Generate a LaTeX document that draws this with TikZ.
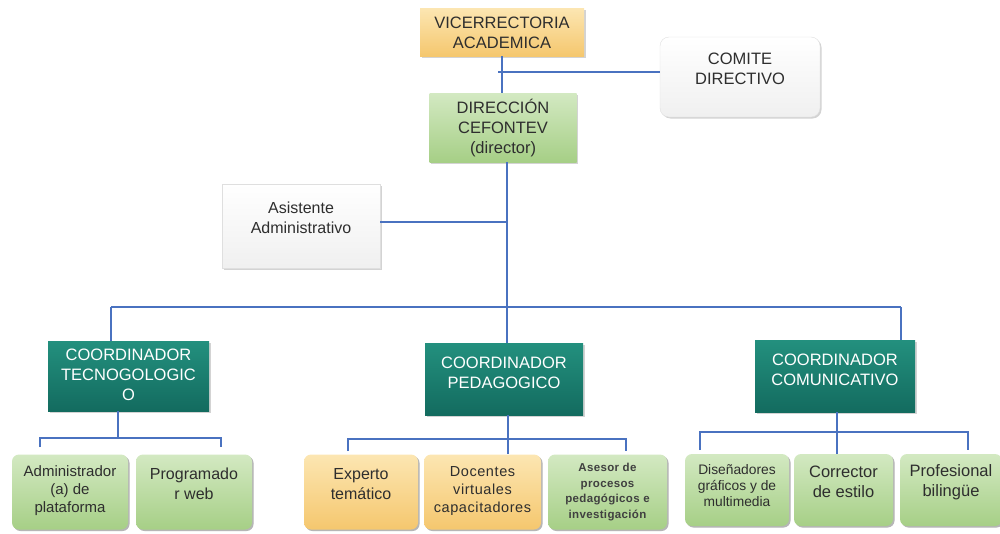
\documentclass[tikz,border=0pt]{standalone}
\usepackage{fontspec}
\setmainfont{Liberation Sans}
\usetikzlibrary{shadows,calc}
\definecolor{lineblue}{HTML}{4A72C0}
\definecolor{orA}{HTML}{FCE6B2}
\definecolor{orB}{HTML}{F5C76E}
\definecolor{grA}{HTML}{D3E9C2}
\definecolor{grB}{HTML}{A6CF86}
\definecolor{tlA}{HTML}{23907E}
\definecolor{tlB}{HTML}{136B5F}
\definecolor{txtgray}{HTML}{2E2E2E}
\tikzset{
  box/.style={draw=none, inner sep=1pt,
    drop shadow={shadow xshift=1.5pt, shadow yshift=-1.5pt, opacity=0.35}},
  orangebox/.style={box, top color=orA, bottom color=orB},
  greenbox/.style={box, top color=grA, bottom color=grB},
  tealbox/.style={box, top color=tlA, bottom color=tlB},
  whitebox/.style={box, top color=white, bottom color=gray!12, draw=gray!25},
  leafbox/.style={box, rounded corners=7pt},
  lbl/.style={inner sep=0pt, align=center, text=txtgray},
  wlbl/.style={lbl, text=white},
  conn/.style={draw=lineblue, line width=1.1pt},
}
\newcommand\fs[2]{\fontsize{#1}{#2}\selectfont}
\begin{document}
\begin{tikzpicture}[x=1pt,y=-1pt]
\useasboundingbox (0,0) rectangle (1000,533);
% top level boxes
\node[orangebox, minimum width=164, minimum height=48] (vice) at (502,32) {};
\node[whitebox, rounded corners=9pt, minimum width=160, minimum height=80] (comite) at (740,77) {};
\node[greenbox, minimum width=147, minimum height=69] (dir) at (503,127.5) {};
\node[whitebox, minimum width=158, minimum height=84] (asis) at (301,226) {};
% coordinators
\node[tealbox, minimum width=161, minimum height=70] (ctec) at (128.5,376) {};
\node[tealbox, minimum width=158, minimum height=72] (cped) at (504,379) {};
\node[tealbox, minimum width=160, minimum height=72] (ccom) at (835,376) {};
% leaves
\node[greenbox, leafbox, minimum width=116, minimum height=75] (adm) at (70,492) {};
\node[greenbox, leafbox, minimum width=116, minimum height=75] (prog) at (194,492) {};
\node[orangebox, leafbox, minimum width=114, minimum height=75] (exp) at (361,492) {};
\node[orangebox, leafbox, minimum width=117, minimum height=75] (doc) at (482.5,492) {};
\node[greenbox, leafbox, minimum width=119, minimum height=75] (ases) at (607.5,492) {};
\node[greenbox, leafbox, minimum width=104, minimum height=72] (dis) at (737,490) {};
\node[greenbox, leafbox, minimum width=99, minimum height=72] (corr) at (843.5,490) {};
\node[greenbox, leafbox, minimum width=102, minimum height=72] (prof) at (951,490) {};
% texts
\node[lbl, font=\fs{16.5}{20}] (vice-t) at ($(vice.center)+(0,1)$) {VICERRECTORIA\\ACADEMICA};
\node[lbl, font=\fs{16.5}{20}] (comite-t) at ($(comite.center)+(0,-8)$) {COMITE\\DIRECTIVO};
\node[lbl, font=\fs{16.5}{20}] (dir-t) at ($(dir.center)+(0,0.5)$) {DIRECCIÓN\\CEFONTEV\\(director)};
\node[lbl, font=\fs{16}{20}] (asis-t) at ($(asis.center)+(0,-8)$) {Asistente\\Administrativo};
\node[wlbl, font=\fs{16.5}{20}] (ctec-t) at ($(ctec.center)+(0,-1)$) {COORDINADOR\\TECNOGOLOGIC\\O};
\node[wlbl, font=\fs{16.5}{20}] (cped-t) at ($(cped.center)+(0,-6)$) {COORDINADOR\\PEDAGOGICO};
\node[wlbl, font=\fs{16.5}{20}] (ccom-t) at ($(ccom.center)+(0,-6)$) {COORDINADOR\\COMUNICATIVO};
\node[lbl, font=\fs{15}{18}] (adm-t) at ($(adm.center)+(0,-1)$) {Administrador\\(a) de\\plataforma};
\node[lbl, font=\fs{16}{20}] (prog-t) at ($(prog.center)+(0,-8)$) {Programado\\r web};
\node[lbl, font=\fs{16}{20}] (exp-t) at ($(exp.center)+(0,-8)$) {Experto\\temático};
\node[lbl, font=\fs{14.5}{18}\addfontfeature{LetterSpace=4}] (doc-t) at ($(doc.center)+(0,-1)$) {Docentes\\virtuales\\capacitadores};
\node[lbl, font=\fs{11.5}{15.5}\bfseries\addfontfeature{LetterSpace=3}, text=black!75] (ases-t) at ($(ases.center)+(0,0)$) {Asesor de\\procesos\\pedagógicos e\\investigación};
\node[lbl, font=\fs{13.8}{16}] (dis-t) at ($(dis.center)+(0,-4)$) {Diseñadores\\gráficos y de\\multimedia};
\node[lbl, font=\fs{16.5}{20}] (corr-t) at ($(corr.center)+(0,-8)$) {Corrector\\de estilo};
\node[lbl, font=\fs{16.5}{20}] (prof-t) at ($(prof.center)+(0,-8)$) {Profesional\\bilingüe};
% junction coordinates
\coordinate (j1) at (502,72);
\coordinate (j1l) at (498,72);
\coordinate (j2) at (507,222);
\coordinate (hl) at (111,307);
\coordinate (hr) at (901,307);
% connectors
\draw[conn] (vice.south) -- (vice.south |- dir.north);
\draw[conn] (j1l) -- (comite.west |- j1);
\draw[conn] (dir.south -| j2) -- (j2 |- cped.north);
\draw[conn] (asis.east |- j2) -- (j2);
\draw[conn] (hl) -- (hr);
\draw[conn] (hl) -- (hl |- ctec.north);
\draw[conn] (hr) -- (hr |- ccom.north);
% tec subtree
\coordinate (t0) at (118,438);
\coordinate (ta) at (40,447);
\coordinate (tb) at (221,447);
\draw[conn] (ctec.south -| t0) -- (t0);
\draw[conn] (ta) -- (ta |- t0) -- (tb |- t0) -- (tb);
% ped subtree
\coordinate (p0) at (508,439);
\coordinate (pa) at (348,451);
\coordinate (pb) at (626,451);
\draw[conn] (cped.south -| p0) -- (p0 |- exp.north);
\draw[conn] (pa) -- (pa |- p0) -- (pb |- p0) -- (pb);
% com subtree
\coordinate (c0) at (837,432);
\coordinate (ca) at (700,450);
\coordinate (cb) at (968,450);
\draw[conn] (ccom.south -| c0) -- (c0 |- corr.north);
\draw[conn] (ca) -- (ca |- c0) -- (cb |- c0) -- (cb);
\end{tikzpicture}
\end{document}
